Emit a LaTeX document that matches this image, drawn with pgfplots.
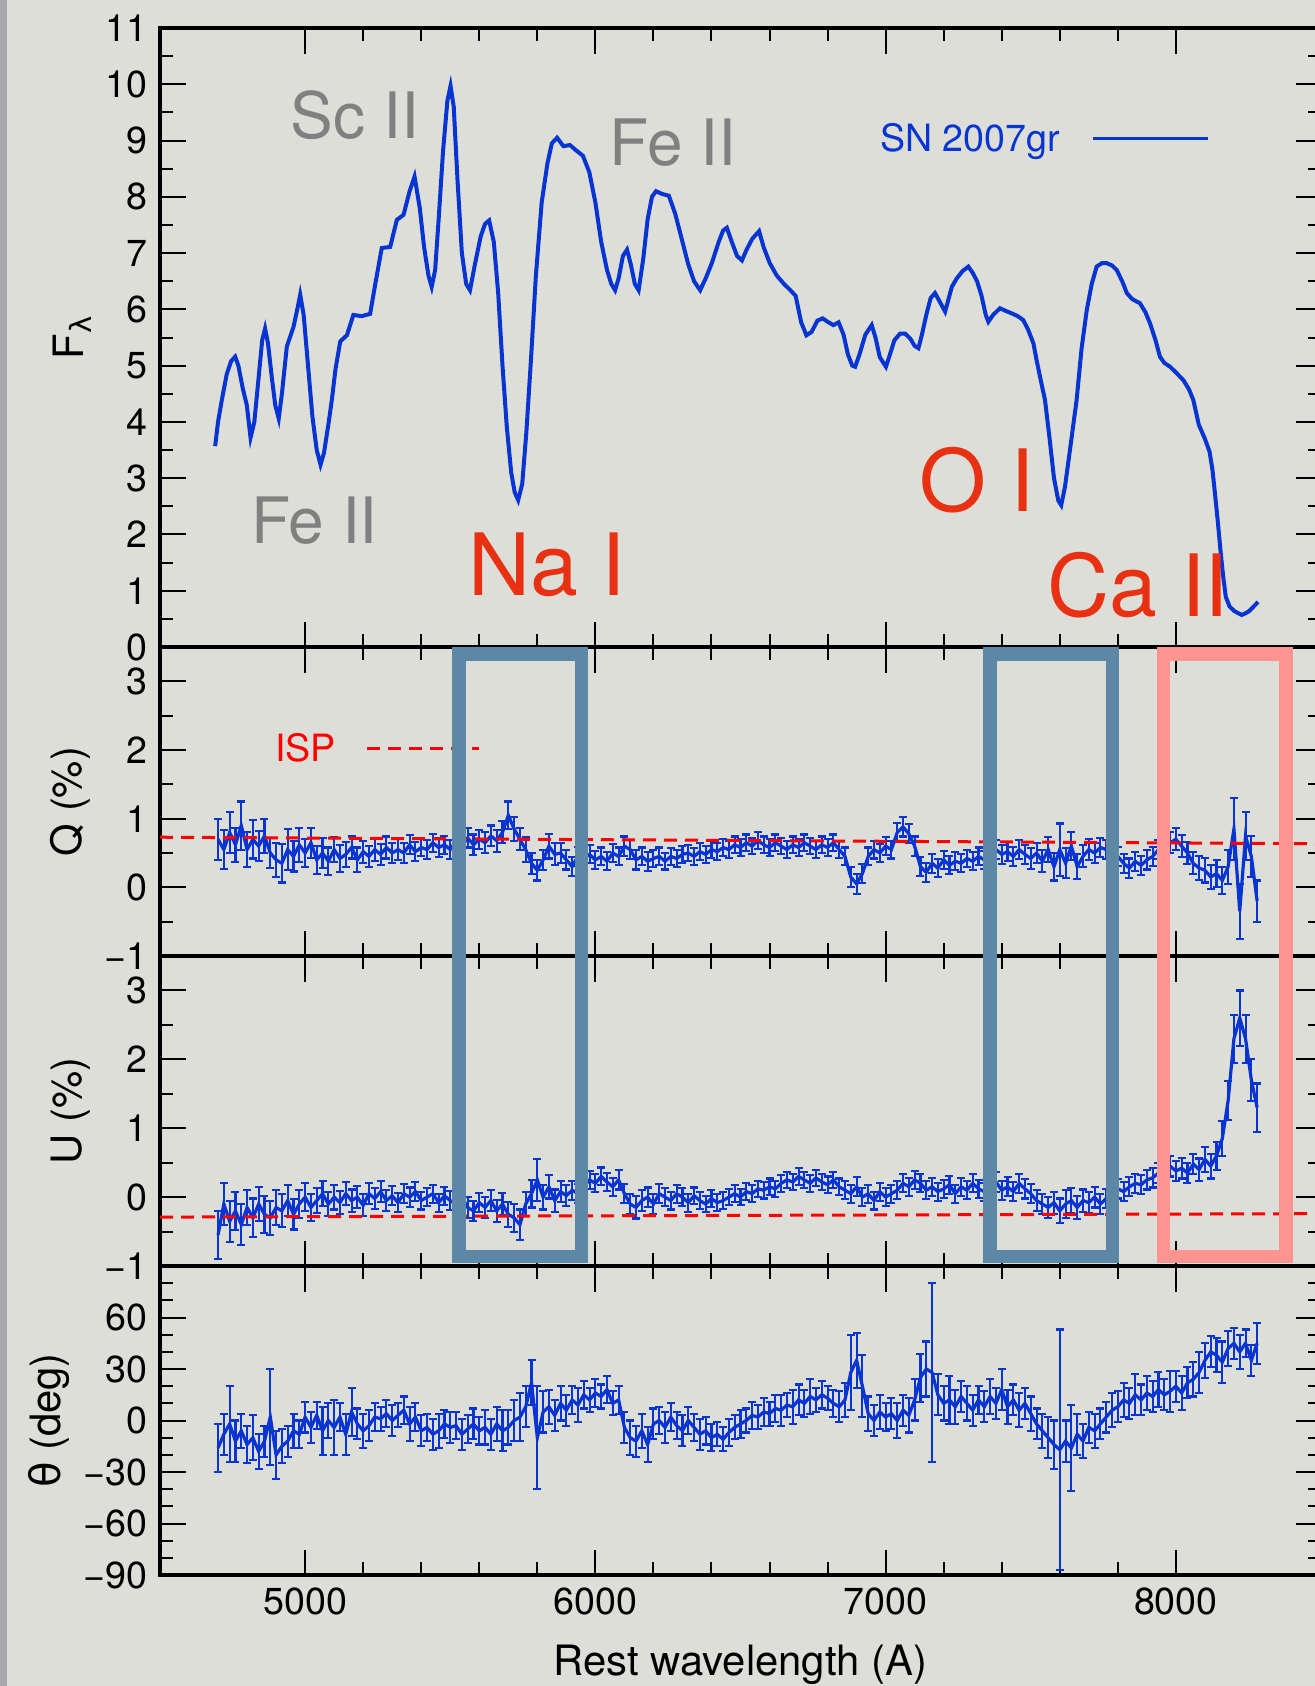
\documentclass[border=0pt]{standalone}
\usepackage{pgfplots}
\pgfplotsset{compat=1.18}
\usepackage{pgfplotstable}
\usepackage{fontspec}
\setmainfont{TeX Gyre Heros}
\newfontfamily\dejavu{DejaVu Sans}
\definecolor{bg}{RGB}{221,222,215}
\definecolor{stripe}{RGB}{168,168,174}
\definecolor{snblue}{RGB}{8,52,210}
\definecolor{labgray}{RGB}{128,128,128}
\definecolor{labred}{RGB}{232,48,18}
\definecolor{boxblue}{RGB}{92,136,166}
\definecolor{boxpink}{RGB}{255,148,144}

\pgfplotstableread{
l F
4690 3.57
4700 4.00
4713 4.39
4730 4.85
4745 5.08
4759 5.16
4770 5.00
4785 4.60
4799 4.30
4812 3.72
4825 4.00
4840 4.80
4852 5.45
4862 5.66
4872 5.40
4885 4.80
4897 4.30
4909 4.06
4920 4.50
4937 5.34
4960 5.69
4975 6.05
4983 6.26
4995 5.90
5010 5.00
5025 4.10
5040 3.50
5053 3.24
5065 3.45
5080 3.95
5092 4.39
5105 4.95
5121 5.43
5144 5.54
5166 5.90
5195 5.88
5224 5.92
5240 6.40
5264 7.09
5293 7.11
5316 7.59
5339 7.68
5360 8.10
5377 8.36
5395 7.80
5410 7.10
5425 6.60
5436 6.40
5448 6.70
5460 7.60
5475 8.80
5490 9.70
5501 9.97
5512 9.60
5525 8.30
5540 7.00
5555 6.45
5568 6.34
5585 6.80
5605 7.30
5620 7.52
5634 7.58
5650 7.20
5665 6.30
5680 5.00
5695 3.90
5710 3.10
5722 2.75
5734 2.61
5748 2.90
5762 3.80
5778 5.10
5795 6.60
5815 7.90
5835 8.60
5850 8.95
5868 9.05
5890 8.90
5912 8.92
5935 8.82
5957 8.73
5979 8.44
6000 7.90
6020 7.20
6040 6.70
6055 6.45
6068 6.34
6080 6.55
6095 6.95
6109 7.06
6122 6.80
6136 6.45
6149 6.34
6165 6.90
6180 7.60
6195 8.00
6209 8.10
6230 8.05
6253 8.02
6275 7.70
6300 7.20
6320 6.80
6340 6.50
6361 6.34
6380 6.55
6401 6.82
6425 7.20
6440 7.40
6453 7.45
6470 7.20
6488 6.95
6505 6.87
6520 7.05
6540 7.25
6564 7.39
6580 7.10
6601 6.82
6625 6.60
6650 6.45
6670 6.35
6690 6.24
6709 5.77
6727 5.54
6745 5.60
6765 5.80
6783 5.84
6800 5.78
6820 5.72
6838 5.77
6855 5.55
6870 5.20
6885 5.00
6895 4.98
6910 5.20
6930 5.55
6952 5.72
6965 5.50
6980 5.15
7001 4.98
7015 5.20
7030 5.45
7050 5.57
7067 5.57
7085 5.48
7100 5.35
7113 5.31
7125 5.55
7140 5.90
7155 6.20
7170 6.29
7185 6.15
7205 5.96
7215 6.15
7228 6.40
7245 6.55
7265 6.68
7285 6.76
7300 6.65
7315 6.50
7330 6.25
7345 5.90
7354 5.78
7370 5.90
7394 6.02
7415 5.97
7434 5.93
7455 5.88
7474 5.81
7490 5.65
7509 5.40
7520 5.10
7532 4.80
7549 4.39
7565 3.70
7580 3.00
7595 2.60
7605 2.52
7618 2.85
7635 3.50
7658 4.39
7675 5.30
7693 5.99
7710 6.45
7727 6.76
7745 6.82
7762 6.82
7780 6.78
7796 6.70
7815 6.50
7831 6.29
7850 6.18
7876 6.11
7895 5.95
7911 5.75
7930 5.45
7945 5.16
7960 5.05
7980 4.98
8000 4.88
8026 4.74
8045 4.58
8060 4.39
8079 3.95
8100 3.70
8116 3.47
8126 3.15
8135 2.71
8145 2.20
8153 1.75
8163 1.25
8172 0.89
8185 0.72
8201 0.64
8215 0.60
8227 0.57
8240 0.60
8253 0.64
8268 0.72
8283 0.80
}\fluxtab

\pgfplotstableread{
l Q eQ U eU T eT
4700 0.70 0.30 -0.55 0.35 -16 14
4720 0.55 0.28 -0.10 0.30 -8 12
4740 0.80 0.30 -0.35 0.30 -2 22
4760 0.62 0.25 -0.20 0.28 -12 12
4780 0.90 0.35 -0.40 0.30 -6 10
4800 0.55 0.25 -0.15 0.25 -14 11
4820 0.70 0.28 -0.30 0.28 -10 13
4840 0.60 0.22 -0.10 0.25 -18 10
4860 0.75 0.25 -0.25 0.27 -12 9
4880 0.50 0.22 -0.30 0.25 2 28
4900 0.40 0.25 -0.15 0.25 -20 14
4920 0.35 0.28 -0.20 0.24 -15 10
4940 0.55 0.30 -0.05 0.22 -12 9
4960 0.45 0.22 -0.25 0.22 -6 10
4980 0.62 0.25 -0.10 0.20 -8 8
5000 0.50 0.20 0.00 0.20 2 9
5020 0.65 0.22 -0.15 0.20 -4 9
5040 0.40 0.20 -0.05 0.18 3 8
5060 0.50 0.22 0.05 0.18 -6 14
5080 0.38 0.20 -0.10 0.18 0 10
5100 0.55 0.18 0.00 0.18 -4 16
5120 0.42 0.20 -0.08 0.17 2 8
5140 0.48 0.18 0.05 0.17 -8 12
5160 0.58 0.16 -0.05 0.16 5 14
5180 0.40 0.18 0.00 0.16 -2 9
5200 0.52 0.16 -0.12 0.16 -6 10
5220 0.45 0.15 0.05 0.15 -3 9
5240 0.55 0.16 -0.02 0.15 2 8
5260 0.48 0.15 0.08 0.15 1 7
5280 0.58 0.16 -0.05 0.15 4 8
5300 0.50 0.14 0.02 0.14 0 9
5320 0.55 0.15 -0.08 0.14 3 7
5340 0.50 0.14 0.05 0.14 6 8
5360 0.62 0.14 0.00 0.14 -2 10
5380 0.52 0.14 0.08 0.14 2 8
5400 0.58 0.13 -0.05 0.13 -6 9
5420 0.55 0.14 0.00 0.13 -4 8
5440 0.65 0.13 0.05 0.13 -8 9
5460 0.58 0.14 -0.08 0.13 -6 10
5480 0.62 0.13 0.02 0.13 -2 8
5500 0.55 0.14 -0.05 0.14 -4 9
5520 0.68 0.14 -0.10 0.14 -3 8
5540 0.60 0.15 0.00 0.14 -8 9
5560 0.72 0.14 -0.15 0.15 -5 8
5580 0.62 0.15 -0.20 0.15 -2 9
5600 0.70 0.14 -0.08 0.14 -6 8
5620 0.65 0.15 -0.15 0.15 -4 10
5640 0.75 0.15 -0.05 0.15 -8 9
5660 0.68 0.16 -0.20 0.16 -2 10
5680 0.80 0.16 -0.10 0.16 -6 12
5700 1.05 0.20 -0.25 0.18 -4 10
5720 0.85 0.18 -0.30 0.20 0 12
5740 0.70 0.16 -0.40 0.22 2 14
5760 0.55 0.18 -0.10 0.18 8 12
5780 0.35 0.15 0.05 0.20 22 13
5800 0.25 0.15 0.25 0.30 -10 30
5820 0.40 0.15 0.00 0.18 5 12
5840 0.60 0.18 0.15 0.17 8 10
5860 0.48 0.16 -0.05 0.16 3 9
5880 0.50 0.15 0.08 0.15 10 10
5900 0.40 0.14 0.02 0.15 6 9
5920 0.30 0.14 0.10 0.14 12 8
5940 0.45 0.14 0.05 0.14 9 10
5960 0.42 0.13 0.15 0.13 15 8
5980 0.48 0.13 0.25 0.13 12 7
6000 0.40 0.13 0.20 0.13 16 8
6020 0.45 0.13 0.30 0.13 14 7
6040 0.38 0.13 0.22 0.13 18 8
6060 0.50 0.13 0.15 0.13 10 7
6080 0.45 0.13 0.25 0.14 12 8
6100 0.60 0.14 0.05 0.14 -4 9
6120 0.55 0.14 -0.10 0.15 -10 10
6140 0.40 0.14 -0.15 0.16 -12 9
6160 0.45 0.13 -0.05 0.15 -6 10
6180 0.38 0.14 0.00 0.14 -14 10
6200 0.42 0.13 -0.10 0.14 -2 9
6220 0.45 0.13 0.05 0.14 0 8
6240 0.38 0.12 0.00 0.13 -4 9
6260 0.45 0.12 -0.05 0.13 2 8
6280 0.42 0.12 0.05 0.13 -3 8
6300 0.48 0.12 0.00 0.13 -6 9
6320 0.50 0.12 -0.08 0.13 0 8
6340 0.45 0.12 0.02 0.12 -4 8
6360 0.52 0.12 -0.05 0.12 -8 9
6380 0.48 0.12 -0.10 0.12 -6 8
6400 0.55 0.12 -0.02 0.12 -10 8
6420 0.52 0.12 -0.08 0.12 -8 7
6440 0.58 0.12 -0.05 0.12 -11 7
6460 0.55 0.12 0.00 0.12 -7 8
6480 0.62 0.12 0.05 0.12 -4 7
6500 0.58 0.12 0.00 0.12 -2 8
6520 0.65 0.12 0.08 0.12 0 7
6540 0.60 0.12 0.05 0.12 3 8
6560 0.68 0.12 0.12 0.12 2 7
6580 0.62 0.12 0.10 0.12 5 8
6600 0.58 0.12 0.15 0.12 4 7
6620 0.65 0.12 0.12 0.12 7 8
6640 0.60 0.12 0.20 0.12 6 9
6660 0.55 0.12 0.25 0.12 9 7
6680 0.62 0.12 0.22 0.12 8 10
6700 0.58 0.12 0.30 0.12 12 9
6720 0.65 0.12 0.25 0.12 10 8
6740 0.60 0.12 0.20 0.12 14 10
6760 0.55 0.12 0.28 0.12 12 7
6780 0.62 0.12 0.22 0.12 15 8
6800 0.58 0.12 0.18 0.12 13 7
6820 0.65 0.12 0.25 0.12 10 8
6840 0.55 0.12 0.15 0.12 8 9
6860 0.45 0.13 0.10 0.13 12 10
6880 0.15 0.15 0.05 0.13 28 22
6900 0.05 0.15 0.15 0.14 35 16
6920 0.20 0.14 0.00 0.13 20 18
6940 0.45 0.13 0.05 0.13 4 10
6960 0.55 0.13 -0.05 0.13 0 9
6980 0.50 0.13 0.08 0.13 5 10
7000 0.60 0.13 0.00 0.13 2 8
7020 0.55 0.13 0.05 0.13 4 9
7040 0.80 0.14 0.10 0.13 0 10
7060 0.88 0.14 0.20 0.13 6 9
7080 0.78 0.14 0.15 0.13 3 10
7100 0.60 0.14 0.25 0.13 12 12
7120 0.30 0.14 0.20 0.13 25 14
7140 0.22 0.14 0.10 0.13 30 16
7160 0.35 0.14 0.15 0.13 28 52
7180 0.28 0.13 0.08 0.13 15 12
7200 0.40 0.13 0.12 0.13 10 10
7220 0.32 0.13 0.18 0.13 12 14
7240 0.38 0.13 0.05 0.13 8 10
7260 0.35 0.13 0.15 0.13 14 9
7280 0.42 0.13 0.10 0.13 10 10
7300 0.38 0.13 0.20 0.13 6 9
7320 0.45 0.13 0.12 0.13 12 8
7340 0.40 0.13 0.08 0.13 8 9
7360 0.50 0.14 0.15 0.13 14 10
7380 0.55 0.14 0.22 0.14 10 9
7400 0.48 0.14 0.10 0.14 18 12
7420 0.52 0.14 0.15 0.14 8 10
7440 0.45 0.14 0.08 0.14 12 9
7460 0.55 0.14 0.20 0.14 6 10
7480 0.48 0.14 0.12 0.14 10 9
7500 0.42 0.15 0.05 0.14 4 10
7520 0.50 0.15 -0.05 0.15 -2 9
7540 0.38 0.16 -0.10 0.15 -6 10
7560 0.55 0.18 -0.15 0.15 -10 12
7580 0.30 0.20 -0.08 0.16 -14 14
7600 0.55 0.38 -0.20 0.18 -17 70
7620 0.35 0.22 -0.10 0.20 -12 12
7640 0.60 0.20 -0.05 0.18 -16 25
7660 0.30 0.18 -0.15 0.17 -8 12
7680 0.45 0.16 -0.05 0.16 -12 10
7700 0.55 0.15 -0.08 0.15 -4 9
7720 0.50 0.15 0.00 0.15 -6 10
7740 0.58 0.14 -0.10 0.14 -2 9
7760 0.55 0.14 -0.02 0.14 2 9
7780 0.60 0.14 0.05 0.14 6 10
7800 0.45 0.14 0.12 0.14 8 9
7820 0.35 0.14 0.08 0.14 12 10
7840 0.28 0.14 0.15 0.14 10 9
7860 0.38 0.14 0.20 0.14 15 12
7880 0.32 0.14 0.18 0.14 12 9
7900 0.40 0.14 0.25 0.14 16 10
7920 0.45 0.14 0.28 0.14 14 9
7940 0.55 0.14 0.35 0.14 18 10
7960 0.50 0.14 0.30 0.14 15 9
7980 0.65 0.15 0.45 0.15 17 12
8000 0.70 0.16 0.38 0.15 20 9
8020 0.60 0.16 0.42 0.15 16 10
8040 0.50 0.16 0.35 0.15 22 9
8060 0.35 0.16 0.48 0.15 24 10
8080 0.28 0.17 0.40 0.16 28 12
8100 0.25 0.18 0.55 0.18 35 10
8120 0.15 0.18 0.45 0.18 40 9
8140 0.20 0.20 0.60 0.20 38 10
8160 0.10 0.20 0.85 0.25 34 12
8180 0.30 0.25 1.40 0.28 42 10
8200 0.85 0.45 2.30 0.35 45 9
8220 -0.35 0.40 2.60 0.40 40 10
8240 0.75 0.35 2.30 0.35 45 8
8260 0.45 0.30 1.70 0.30 35 9
8280 -0.20 0.30 1.30 0.35 45 12
}\poltab

\pgfplotsset{
  panel/.style={
    scale only axis, width=580.5pt, xmin=4500, xmax=8500,
    axis line style={line width=1.8pt, black},
    tick align=inside,
    every tick/.style={line width=1pt, black},
    major tick length=12.75pt, minor tick length=6.5pt,
    xtick={5000,6000,7000,8000}, minor x tick num=4,
    xticklabels={},
    tick label style={font=\fontsize{18.8}{22}\selectfont},
    label style={font=\fontsize{20.9}{24}\selectfont},
    yticklabel style={xshift=-3pt},
    xticklabel style={yshift=-3pt},
  },
  errplot/.style={snblue, line width=1.6pt, mark=none,
    error bars/y dir=both, error bars/y explicit,
    error bars/error bar style={line width=1.05pt, snblue},
    error bars/error mark options={rotate=90, mark size=2pt, line width=1.05pt, snblue}},
}

\begin{document}
\begin{tikzpicture}
\fill[bg] (0pt,0pt) rectangle (657.5pt,-843pt);
\fill[stripe] (0pt,0pt) rectangle (3.3pt,-843pt);

% Flux panel
\begin{axis}[panel, at={(80pt,-14pt)}, anchor=north west, height=309.5pt,
  ymin=0, ymax=11, ytick={0,1,2,3,4,5,6,7,8,9,10,11},
  yticklabels={0,1,2,3,4,5,6,7,8,9,10,11}, minor y tick num=1,
  ylabel={F\textsubscript{\dejavu λ}},
  legend style={at={(0.620,0.821)}, anchor=west, draw=none, fill=none,
    inner sep=0pt, column sep=16pt, nodes={inner sep=0pt},
    font=\fontsize{18.8}{22}\selectfont},
  legend plot pos=right,
  legend image code/.code={\draw[#1, line width=1.5pt] (0pt,0pt) -- (57.5pt,0pt);},
]
\addplot[snblue, line width=2pt] table[x=l, y=F]{\fluxtab};
\addlegendentry{\textcolor{snblue}{SN 2007gr}}
\end{axis}

% Q panel
\begin{axis}[panel, at={(80pt,-323.5pt)}, anchor=north west, height=154.5pt,
  ymin=-1, ymax=3.5, ytick={-1,0,1,2,3}, yticklabels={−1,0,1,2,3}, minor y tick num=1,
  ylabel={Q (\%)},
  legend style={at={(0.099,0.670)}, anchor=west, draw=none, fill=none,
    inner sep=0pt, column sep=15pt, nodes={inner sep=0pt},
    font=\fontsize{18.8}{22}\selectfont},
  legend plot pos=right,
  legend image code/.code={\draw[#1] (0pt,0pt) -- (56pt,0pt);},
]
\addplot[forget plot, errplot] table[x=l, y=Q, y error=eQ]{\poltab};
\addplot[red, line width=1.5pt, dash pattern=on 6.5pt off 4pt] coordinates {(4500,0.73) (8500,0.635)};
\addlegendentry{\textcolor{red}{ISP}}
\end{axis}

% U panel
\begin{axis}[panel, at={(80pt,-478pt)}, anchor=north west, height=155pt,
  ymin=-1, ymax=3.5, ytick={-1,0,1,2,3}, yticklabels={−1,0,1,2,3}, minor y tick num=1,
  ylabel={U (\%)},
]
\addplot[errplot] table[x=l, y=U, y error=eU]{\poltab};
\addplot[red, line width=1.5pt, dash pattern=on 6.5pt off 4pt] coordinates {(4500,-0.29) (8500,-0.24)};
\end{axis}

% theta panel
\begin{axis}[panel, at={(80pt,-633pt)}, anchor=north west, height=154.5pt,
  ymin=-90, ymax=90, ytick={-90,-60,-30,0,30,60,90}, yticklabels={−90,−60,−30,0,30,60,{}},
  minor y tick num=2,
  xticklabels={5000,6000,7000,8000},
  ylabel={{\dejavu θ} (deg)},
  xlabel={Rest wavelength (A)},
  xlabel style={yshift=-8pt},
]
\addplot[errplot] table[x=l, y=T, y error=eT]{\poltab};
\end{axis}

% line identifications
\node[labgray, font=\fontsize{32}{36}\selectfont, inner sep=0pt] at (177.5pt,-57.5pt) {Sc II};
\node[labgray, font=\fontsize{32}{36}\selectfont, inner sep=0pt] at (336.5pt,-71.5pt) {Fe II};
\node[labgray, font=\fontsize{32}{36}\selectfont, inner sep=0pt] at (157.25pt,-260.5pt) {Fe II};
\node[labred, font=\fontsize{43}{48}\selectfont, inner sep=0pt] at (273.5pt,-282.5pt) {Na I};
\node[labred, font=\fontsize{43}{48}\selectfont, inner sep=0pt] at (488.5pt,-240pt) {O I};
\node[labred, font=\fontsize{43}{48}\selectfont, inner sep=0pt] at (569pt,-292.5pt) {Ca II};

% highlight boxes
\draw[boxblue, line width=6.7pt] (229.5pt,-327pt) rectangle (290.65pt,-628.15pt);
\draw[boxblue, line width=6.7pt] (495pt,-327pt) rectangle (556.15pt,-628.15pt);
\draw[boxpink, line width=6.7pt] (581.65pt,-327pt) rectangle (643pt,-628.15pt);

\pgfresetboundingbox
\path[use as bounding box] (0pt,0pt) rectangle (657.5pt,-843pt);
\end{tikzpicture}
\end{document}
